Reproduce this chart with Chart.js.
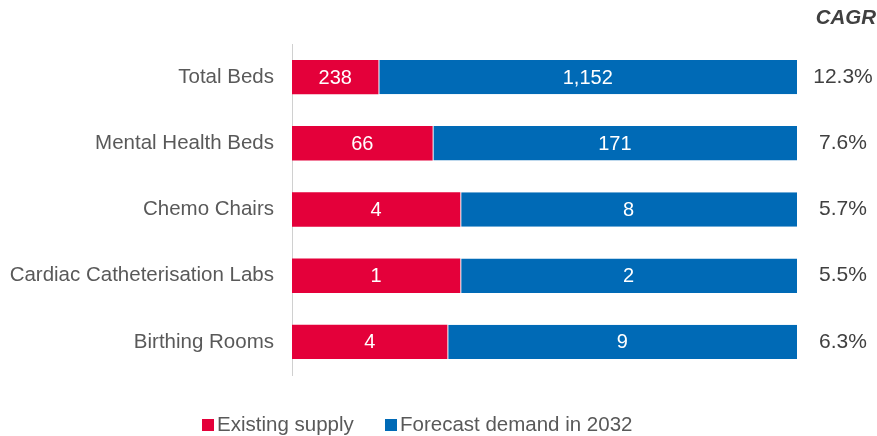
<!DOCTYPE html>
<html><head><meta charset="utf-8">
<script src="https://cdn.jsdelivr.net/npm/chart.js@4"></script>
<style>html,body{margin:0;padding:0;background:#fff}#wrap{width:877px;height:436px}</style>
</head><body><div id="wrap"><canvas id="c" width="877" height="436"></canvas></div>
<script>
const categories = ["Total Beds", "Mental Health Beds", "Chemo Chairs", "Cardiac Catheterisation Labs", "Birthing Rooms"];
const existingSupply = [238, 66, 4, 1, 4];
const forecastDemand = [1152, 171, 8, 2, 9];
const cagr = ["12.3%", "7.6%", "5.7%", "5.5%", "6.3%"];
const seriesNames = ["Existing supply", "Forecast demand in 2032"];
const RED = "#E4003A", BLUE = "#006AB6";

const totals = existingSupply.map((v, i) => v + forecastDemand[i]);
const pctSupply = existingSupply.map((v, i) => v / totals[i] * 100);
const pctDemand = forecastDemand.map((v, i) => v / totals[i] * 100);
const rawVals = [existingSupply, forecastDemand];
const FONT = "'Liberation Sans', Arial, sans-serif";

const labelPlugin = {
  id: 'labels',
  afterDatasetsDraw(chart) {
    const ctx = chart.ctx;
    ctx.save();
    ctx.font = "20px " + FONT;
    ctx.fillStyle = "#fff";
    ctx.textAlign = "center";
    ctx.textBaseline = "middle";
    chart.data.datasets.forEach((ds, di) => {
      chart.getDatasetMeta(di).data.forEach((bar, i) => {
        const x = (bar.x + bar.base) / 2;
        ctx.fillText(rawVals[di][i].toLocaleString('en-US'), x, bar.y + 1);
      });
    });
    // CAGR column
    ctx.fillStyle = "#404040";
    ctx.font = "21px " + FONT;
    const meta = chart.getDatasetMeta(1);
    meta.data.forEach((bar, i) => {
      ctx.fillText(cagr[i], 843, bar.y);
    });
    ctx.font = "italic bold 20.5px " + FONT;
    ctx.textAlign = "right";
    ctx.fillText("CAGR", 876, 18);
    // legend
    ctx.font = "20.5px " + FONT;
    ctx.textAlign = "left";
    const ly = 425;
    const items = [[202, RED, seriesNames[0]], [385, BLUE, seriesNames[1]]];
    items.forEach(([x, col, txt]) => {
      ctx.fillStyle = col;
      ctx.fillRect(x, ly - 6, 12, 12);
      ctx.fillStyle = "#595959";
      ctx.fillText(txt, x + 15, ly);
    });
    ctx.restore();
  }
};

new Chart(document.getElementById('c'), {
  type: 'bar',
  data: {
    labels: categories,
    datasets: [
      { label: seriesNames[0], data: pctSupply, backgroundColor: RED, borderWidth: 0 },
      { label: seriesNames[1], data: pctDemand, backgroundColor: BLUE, borderColor: "#ffffff", borderWidth: {left: 1, right: 0, top: 0, bottom: 0}, borderSkipped: false }
    ]
  },
  options: {
    indexAxis: 'y',
    responsive: false,
    animation: false,
    layout: { padding: { top: 44, right: 80, bottom: 61, left: 0 } },
    plugins: { legend: { display: false }, tooltip: { enabled: false } },
    datasets: { bar: { barPercentage: 0.52, categoryPercentage: 1.0 } },
    scales: {
      x: { stacked: true, display: false, min: 0, max: 100 },
      y: {
        stacked: true,
        grid: { display: false, drawTicks: false },
        border: { display: true, color: "#d0d0d0", width: 1 },
        ticks: { color: "#595959", font: { size: 20.5, family: FONT }, padding: 18 },
        afterFit(scale) { scale.width = 292; }
      }
    }
  },
  plugins: [labelPlugin]
});
</script>
</body></html>
